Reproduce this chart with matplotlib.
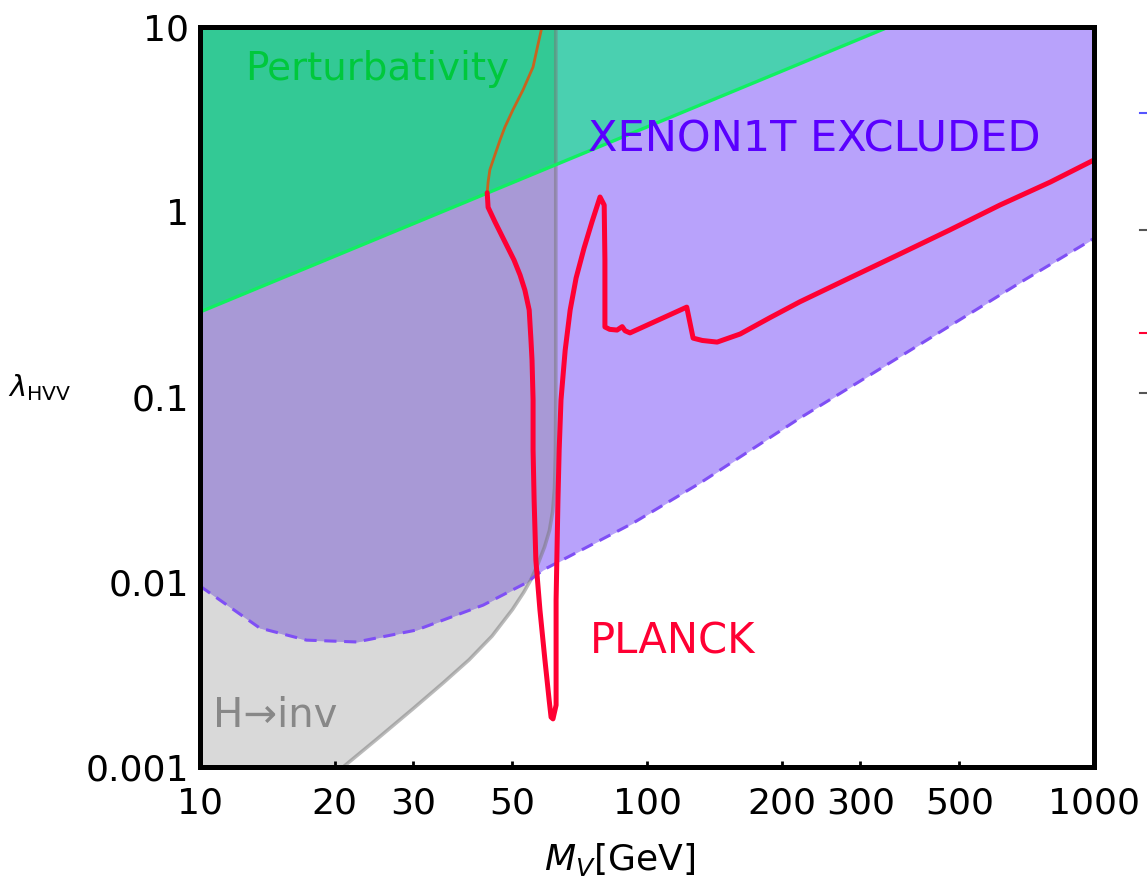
import numpy as np
import matplotlib as mpl
mpl.use('Agg')
import matplotlib.pyplot as plt
from matplotlib.patches import Polygon
from matplotlib.lines import Line2D

plt.rcParams['font.family'] = ['DejaVu Sans']
plt.rcParams['mathtext.fontset'] = 'dejavusans'

# XENON1T exclusion boundary (dashed)
xen_M = [10, 13.6, 17.3, 22.4, 30.5, 43, 53.7, 58.5, 93, 131.5, 220, 400, 700, 1000]
xen_lam = [0.0095, 0.00564, 0.00485, 0.00474, 0.0055, 0.0075, 0.0099, 0.0116,
           0.0208, 0.0343, 0.077, 0.187, 0.43, 0.72]

# perturbativity limit
pert_M = [10, 1000]
pert_lam = [0.288, 28.8]

# Higgs invisible width bound (ends at M_V = m_H/2)
inv_M = [20.9, 25, 30, 35, 40, 45, 50, 53, 55, 57, 59, 60.5, 61.5, 62.1, 62.4, 62.5, 62.5]
inv_lam = [0.001, 0.00143, 0.00207, 0.00285, 0.0038, 0.0051, 0.0071, 0.0088,
           0.0103, 0.0125, 0.0155, 0.019, 0.024, 0.032, 0.05, 0.1, 10]

# relic density contour (PLANCK): upper part inside the perturbativity band
planck_top_M = [58.2, 57.0, 55.6, 52.8, 50.1, 48.1, 46.9, 45.5, 44.5, 44.1, 43.9]
planck_top_lam = [10, 8.0, 6.08, 4.57, 3.56, 2.88, 2.45, 1.98, 1.69, 1.45, 1.27]

# the rest of the contour
planck_M = [43.9, 44.1, 45.7, 48.1, 50.4, 52.0, 53.3, 54.5, 55.0, 55.3, 55.6, 55.6, 55.9,
            56.4, 57.6, 59.1, 60.4, 61.0, 61.6, 62.6, 62.6, 62.6, 62.9, 63.2, 63.6, 64.2,
            65.6, 67.3, 69.4, 72.3, 75.3, 78.5, 80.2, 80.5, 80.5, 82.5, 85.7, 88.0, 89.3,
            91.6, 122.7, 126.8, 133.0, 143.5, 161.6, 188.2, 219.8, 284, 368, 476, 616,
            798, 1000]
planck_lam = [1.27, 1.06, 0.883, 0.689, 0.55, 0.456, 0.378, 0.295, 0.203, 0.158, 0.0964,
              0.0518, 0.0277, 0.01315, 0.00706, 0.00379, 0.0023, 0.00186, 0.00182, 0.00216,
              0.00428, 0.0080, 0.0149, 0.0277, 0.0518, 0.0964, 0.179, 0.295, 0.44, 0.638,
              0.883, 1.205, 1.09, 0.55, 0.239, 0.232, 0.230, 0.240, 0.228, 0.222, 0.306,
              0.208, 0.202, 0.198, 0.219, 0.268, 0.327, 0.440, 0.593, 0.80, 1.09, 1.45, 1.91]

xticks = [10, 20, 30, 50, 100, 200, 300, 500, 1000]
xticklabels = ['10', '20', '30', '50', '100', '200', '300', '500', '1000']
yticks = [0.001, 0.01, 0.1, 1, 10]
yticklabels = ['0.001', '0.01', '0.1', '1', '10']

fig = plt.figure(figsize=(11.47, 8.81), dpi=100)
ax = fig.add_axes([0.1744, 0.1294, 0.7794, 0.84])
ax.set_xscale('log')
ax.set_yscale('log')
ax.set_xlim(10, 1000)
ax.set_ylim(0.001, 10)

top = 10.0

# H -> inv region
inv_poly = Polygon([(10, 0.001)] + list(zip(inv_M, inv_lam)) + [(10, top)], closed=True,
                   facecolor='#d9d9d9', edgecolor='none', zorder=1,
                   transform=ax.transData)
ax.add_patch(inv_poly)

# XENON1T region, darker where it overlaps H -> inv
ax.fill_between(xen_M, xen_lam, 100, color='#b8a2fb', lw=0, zorder=2)
p = ax.fill_between(xen_M, xen_lam, top, color='#a899d6', lw=0, zorder=2.1)
p.set_clip_path(inv_poly)

# perturbativity region
ax.fill_between(pert_M, pert_lam, 100, color='#4ad0b0', lw=0, zorder=3)
p = ax.fill_between(pert_M, pert_lam, top, color='#33c995', lw=0, zorder=3.1)
p.set_clip_path(inv_poly)

ax.plot(inv_M, inv_lam, color='#777777', alpha=0.5, lw=2.6, zorder=3.5)
ax.plot(xen_M, xen_lam, color='#7f4ff5', lw=2.2, ls=(0, (4, 2.5)), zorder=4)
ax.plot(pert_M, pert_lam, color='#10f060', lw=2.4, zorder=4)

ax.plot(planck_top_M, planck_top_lam, color='#c8641e', lw=2.0,
        solid_capstyle='round', zorder=5)
ax.plot(planck_M, planck_lam, color='#ff0033', lw=3.6,
        solid_joinstyle='round', solid_capstyle='round', zorder=5)

ax.text(12.6, 5.17, 'Perturbativity', color='#00c83c', fontsize=28, zorder=6)
ax.text(73.8, 2.11, 'XENON1T EXCLUDED', color='#5a00ff', fontsize=31, zorder=6)
ax.text(74.6, 0.00413, 'PLANCK', color='#ff0033', fontsize=30, zorder=6)
ax.text(10.7, 0.00164, 'H\u2192inv', color='#888888', fontsize=29, zorder=6)

ax.set_xticks(xticks)
ax.set_xticklabels(xticklabels)
ax.set_yticks(yticks)
ax.set_yticklabels(yticklabels)
ax.minorticks_off()
ax.tick_params(direction='in', length=4, width=2, labelsize=26, pad=14)
ax.tick_params(axis='y', pad=8)
for s in ax.spines.values():
    s.set_linewidth(3.6)
    s.set_zorder(10)

fig.text(620 / 1147, 1 - 860 / 881, r'$M_V$[GeV]', fontsize=26, ha='center', va='center')
fig.text(40 / 1147, 1 - 388 / 881, r'$\lambda_{\rm HVV}$', fontsize=21, ha='center', va='center')

# clipped legend marks at the right edge
for yy, cc in [(113, '#5555ff'), (230, '#555555'), (333, '#ff0033'), (393, '#555555')]:
    fig.add_artist(Line2D([1140 / 1147, 1147 / 1147], [1 - yy / 881, 1 - yy / 881],
                          color=cc, lw=1.5, transform=fig.transFigure))

fig.savefig('out.png')
